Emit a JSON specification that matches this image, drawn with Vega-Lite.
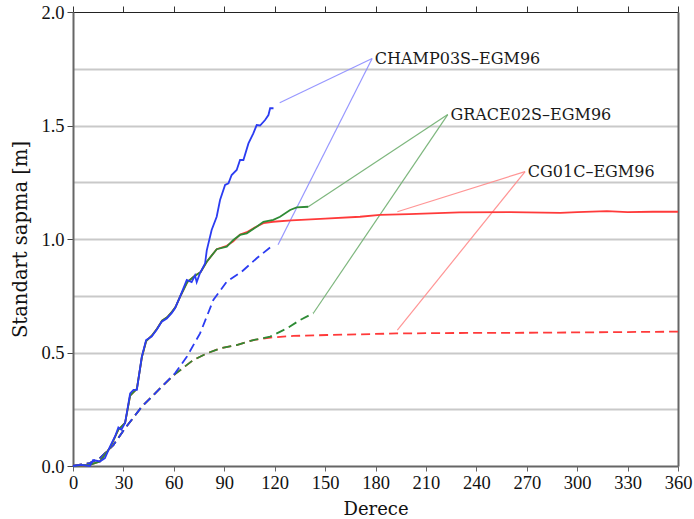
{
  "$schema": "https://vega.github.io/schema/vega-lite/v6.json",
  "autosize": "none",
  "width": 605,
  "height": 454,
  "padding": {"left": 73, "top": 12, "right": 16, "bottom": 53},
  "background": "white",
  "config": {"view": {"stroke": null}, "font": "DejaVu Serif"},
  "datasets": {
    "curves": [
      {"s": "CG01C", "k": "dashed", "d": 0, "v": 0},
      {"s": "CG01C", "k": "dashed", "d": 10, "v": 0.013},
      {"s": "CG01C", "k": "dashed", "d": 16, "v": 0.035},
      {"s": "CG01C", "k": "dashed", "d": 24, "v": 0.092},
      {"s": "CG01C", "k": "dashed", "d": 31, "v": 0.166},
      {"s": "CG01C", "k": "dashed", "d": 40.9, "v": 0.261},
      {"s": "CG01C", "k": "dashed", "d": 51.8, "v": 0.342},
      {"s": "CG01C", "k": "dashed", "d": 60.7, "v": 0.405},
      {"s": "CG01C", "k": "dashed", "d": 71.6, "v": 0.467},
      {"s": "CG01C", "k": "dashed", "d": 79.6, "v": 0.496},
      {"s": "CG01C", "k": "dashed", "d": 87.5, "v": 0.518},
      {"s": "CG01C", "k": "dashed", "d": 97.4, "v": 0.533},
      {"s": "CG01C", "k": "dashed", "d": 107.3, "v": 0.555},
      {"s": "CG01C", "k": "dashed", "d": 119.2, "v": 0.567},
      {"s": "CG01C", "k": "dashed", "d": 131.1, "v": 0.573},
      {"s": "CG01C", "k": "dashed", "d": 151, "v": 0.577},
      {"s": "CG01C", "k": "dashed", "d": 170.8, "v": 0.58},
      {"s": "CG01C", "k": "dashed", "d": 192.7, "v": 0.584},
      {"s": "CG01C", "k": "dashed", "d": 230, "v": 0.586},
      {"s": "CG01C", "k": "dashed", "d": 270, "v": 0.587},
      {"s": "CG01C", "k": "dashed", "d": 310, "v": 0.589},
      {"s": "CG01C", "k": "dashed", "d": 360, "v": 0.592},

      {"s": "GRACE02S", "k": "dashed", "d": 0, "v": 0},
      {"s": "GRACE02S", "k": "dashed", "d": 10, "v": 0.013},
      {"s": "GRACE02S", "k": "dashed", "d": 16, "v": 0.035},
      {"s": "GRACE02S", "k": "dashed", "d": 24, "v": 0.092},
      {"s": "GRACE02S", "k": "dashed", "d": 31, "v": 0.166},
      {"s": "GRACE02S", "k": "dashed", "d": 40.9, "v": 0.261},
      {"s": "GRACE02S", "k": "dashed", "d": 51.8, "v": 0.342},
      {"s": "GRACE02S", "k": "dashed", "d": 60.7, "v": 0.405},
      {"s": "GRACE02S", "k": "dashed", "d": 71.6, "v": 0.467},
      {"s": "GRACE02S", "k": "dashed", "d": 79.6, "v": 0.496},
      {"s": "GRACE02S", "k": "dashed", "d": 87.5, "v": 0.518},
      {"s": "GRACE02S", "k": "dashed", "d": 97.4, "v": 0.533},
      {"s": "GRACE02S", "k": "dashed", "d": 107.3, "v": 0.555},
      {"s": "GRACE02S", "k": "dashed", "d": 117.3, "v": 0.57},
      {"s": "GRACE02S", "k": "dashed", "d": 127.2, "v": 0.606},
      {"s": "GRACE02S", "k": "dashed", "d": 135.1, "v": 0.643},
      {"s": "GRACE02S", "k": "dashed", "d": 143, "v": 0.673},

      {"s": "CHAMP03S", "k": "dashed", "d": 0, "v": 0},
      {"s": "CHAMP03S", "k": "dashed", "d": 10, "v": 0.013},
      {"s": "CHAMP03S", "k": "dashed", "d": 16, "v": 0.035},
      {"s": "CHAMP03S", "k": "dashed", "d": 24, "v": 0.092},
      {"s": "CHAMP03S", "k": "dashed", "d": 31, "v": 0.166},
      {"s": "CHAMP03S", "k": "dashed", "d": 40.9, "v": 0.261},
      {"s": "CHAMP03S", "k": "dashed", "d": 51.8, "v": 0.342},
      {"s": "CHAMP03S", "k": "dashed", "d": 60.7, "v": 0.408},
      {"s": "CHAMP03S", "k": "dashed", "d": 67.7, "v": 0.481},
      {"s": "CHAMP03S", "k": "dashed", "d": 75.6, "v": 0.584},
      {"s": "CHAMP03S", "k": "dashed", "d": 83.5, "v": 0.731},
      {"s": "CHAMP03S", "k": "dashed", "d": 91.5, "v": 0.812},
      {"s": "CHAMP03S", "k": "dashed", "d": 100.4, "v": 0.856},
      {"s": "CHAMP03S", "k": "dashed", "d": 109.3, "v": 0.915},
      {"s": "CHAMP03S", "k": "dashed", "d": 119.2, "v": 0.974},

      {"s": "CG01C", "k": "solid", "d": 0, "v": 0},
      {"s": "CG01C", "k": "solid", "d": 10, "v": 0.005},
      {"s": "CG01C", "k": "solid", "d": 16, "v": 0.02},
      {"s": "CG01C", "k": "solid", "d": 22, "v": 0.08},
      {"s": "CG01C", "k": "solid", "d": 27, "v": 0.16},
      {"s": "CG01C", "k": "solid", "d": 31, "v": 0.19},
      {"s": "CG01C", "k": "solid", "d": 34, "v": 0.31},
      {"s": "CG01C", "k": "solid", "d": 38, "v": 0.34},
      {"s": "CG01C", "k": "solid", "d": 41, "v": 0.48},
      {"s": "CG01C", "k": "solid", "d": 43.5, "v": 0.55},
      {"s": "CG01C", "k": "solid", "d": 47, "v": 0.575},
      {"s": "CG01C", "k": "solid", "d": 50, "v": 0.605},
      {"s": "CG01C", "k": "solid", "d": 53, "v": 0.64},
      {"s": "CG01C", "k": "solid", "d": 56, "v": 0.655},
      {"s": "CG01C", "k": "solid", "d": 59, "v": 0.68},
      {"s": "CG01C", "k": "solid", "d": 61, "v": 0.7},
      {"s": "CG01C", "k": "solid", "d": 64, "v": 0.75},
      {"s": "CG01C", "k": "solid", "d": 68, "v": 0.81},
      {"s": "CG01C", "k": "solid", "d": 72, "v": 0.835},
      {"s": "CG01C", "k": "solid", "d": 76, "v": 0.855},
      {"s": "CG01C", "k": "solid", "d": 79.6, "v": 0.9},
      {"s": "CG01C", "k": "solid", "d": 85.5, "v": 0.955},
      {"s": "CG01C", "k": "solid", "d": 91.5, "v": 0.97},
      {"s": "CG01C", "k": "solid", "d": 95.4, "v": 0.99},
      {"s": "CG01C", "k": "solid", "d": 99.4, "v": 1.02},
      {"s": "CG01C", "k": "solid", "d": 103.4, "v": 1.03},
      {"s": "CG01C", "k": "solid", "d": 109.3, "v": 1.055},
      {"s": "CG01C", "k": "solid", "d": 113.3, "v": 1.07},
      {"s": "CG01C", "k": "solid", "d": 119, "v": 1.076},
      {"s": "CG01C", "k": "solid", "d": 130, "v": 1.082},
      {"s": "CG01C", "k": "solid", "d": 150, "v": 1.09},
      {"s": "CG01C", "k": "solid", "d": 170.8, "v": 1.098},
      {"s": "CG01C", "k": "solid", "d": 182.7, "v": 1.106},
      {"s": "CG01C", "k": "solid", "d": 200, "v": 1.11},
      {"s": "CG01C", "k": "solid", "d": 230, "v": 1.117},
      {"s": "CG01C", "k": "solid", "d": 260, "v": 1.118},
      {"s": "CG01C", "k": "solid", "d": 290, "v": 1.115},
      {"s": "CG01C", "k": "solid", "d": 300, "v": 1.118},
      {"s": "CG01C", "k": "solid", "d": 317.7, "v": 1.123},
      {"s": "CG01C", "k": "solid", "d": 330, "v": 1.118},
      {"s": "CG01C", "k": "solid", "d": 345, "v": 1.12},
      {"s": "CG01C", "k": "solid", "d": 360, "v": 1.12},

      {"s": "GRACE02S", "k": "solid", "d": 0, "v": 0},
      {"s": "GRACE02S", "k": "solid", "d": 10, "v": 0.005},
      {"s": "GRACE02S", "k": "solid", "d": 16, "v": 0.02},
      {"s": "GRACE02S", "k": "solid", "d": 22, "v": 0.08},
      {"s": "GRACE02S", "k": "solid", "d": 27, "v": 0.16},
      {"s": "GRACE02S", "k": "solid", "d": 31, "v": 0.19},
      {"s": "GRACE02S", "k": "solid", "d": 34, "v": 0.31},
      {"s": "GRACE02S", "k": "solid", "d": 38, "v": 0.34},
      {"s": "GRACE02S", "k": "solid", "d": 41, "v": 0.48},
      {"s": "GRACE02S", "k": "solid", "d": 43.5, "v": 0.55},
      {"s": "GRACE02S", "k": "solid", "d": 47, "v": 0.575},
      {"s": "GRACE02S", "k": "solid", "d": 50, "v": 0.605},
      {"s": "GRACE02S", "k": "solid", "d": 53, "v": 0.64},
      {"s": "GRACE02S", "k": "solid", "d": 56, "v": 0.655},
      {"s": "GRACE02S", "k": "solid", "d": 59, "v": 0.68},
      {"s": "GRACE02S", "k": "solid", "d": 61, "v": 0.7},
      {"s": "GRACE02S", "k": "solid", "d": 64, "v": 0.75},
      {"s": "GRACE02S", "k": "solid", "d": 68, "v": 0.81},
      {"s": "GRACE02S", "k": "solid", "d": 72, "v": 0.835},
      {"s": "GRACE02S", "k": "solid", "d": 76, "v": 0.855},
      {"s": "GRACE02S", "k": "solid", "d": 79.6, "v": 0.9},
      {"s": "GRACE02S", "k": "solid", "d": 85.5, "v": 0.955},
      {"s": "GRACE02S", "k": "solid", "d": 91.5, "v": 0.966},
      {"s": "GRACE02S", "k": "solid", "d": 95.4, "v": 0.996},
      {"s": "GRACE02S", "k": "solid", "d": 99.4, "v": 1.018},
      {"s": "GRACE02S", "k": "solid", "d": 103.4, "v": 1.025},
      {"s": "GRACE02S", "k": "solid", "d": 109.3, "v": 1.054},
      {"s": "GRACE02S", "k": "solid", "d": 113.3, "v": 1.076},
      {"s": "GRACE02S", "k": "solid", "d": 119.2, "v": 1.084},
      {"s": "GRACE02S", "k": "solid", "d": 123.2, "v": 1.098},
      {"s": "GRACE02S", "k": "solid", "d": 129.2, "v": 1.128},
      {"s": "GRACE02S", "k": "solid", "d": 133.1, "v": 1.139},
      {"s": "GRACE02S", "k": "solid", "d": 140, "v": 1.142},

      {"s": "CHAMP03S", "k": "solid", "d": 0, "v": 0},
      {"s": "CHAMP03S", "k": "solid", "d": 5, "v": 0.005},
      {"s": "CHAMP03S", "k": "solid", "d": 10, "v": 0.0},
      {"s": "CHAMP03S", "k": "solid", "d": 12, "v": 0.026},
      {"s": "CHAMP03S", "k": "solid", "d": 16, "v": 0.02},
      {"s": "CHAMP03S", "k": "solid", "d": 19, "v": 0.035},
      {"s": "CHAMP03S", "k": "solid", "d": 22, "v": 0.085},
      {"s": "CHAMP03S", "k": "solid", "d": 25, "v": 0.13},
      {"s": "CHAMP03S", "k": "solid", "d": 27, "v": 0.17},
      {"s": "CHAMP03S", "k": "solid", "d": 28.8, "v": 0.16},
      {"s": "CHAMP03S", "k": "solid", "d": 31, "v": 0.19},
      {"s": "CHAMP03S", "k": "solid", "d": 34, "v": 0.32},
      {"s": "CHAMP03S", "k": "solid", "d": 36, "v": 0.335},
      {"s": "CHAMP03S", "k": "solid", "d": 38, "v": 0.335},
      {"s": "CHAMP03S", "k": "solid", "d": 40.9, "v": 0.48},
      {"s": "CHAMP03S", "k": "solid", "d": 43.5, "v": 0.555},
      {"s": "CHAMP03S", "k": "solid", "d": 46.8, "v": 0.57},
      {"s": "CHAMP03S", "k": "solid", "d": 49.8, "v": 0.6},
      {"s": "CHAMP03S", "k": "solid", "d": 52.8, "v": 0.636},
      {"s": "CHAMP03S", "k": "solid", "d": 55.8, "v": 0.65},
      {"s": "CHAMP03S", "k": "solid", "d": 58.7, "v": 0.673},
      {"s": "CHAMP03S", "k": "solid", "d": 60.7, "v": 0.695},
      {"s": "CHAMP03S", "k": "solid", "d": 63.7, "v": 0.746},
      {"s": "CHAMP03S", "k": "solid", "d": 67.7, "v": 0.82},
      {"s": "CHAMP03S", "k": "solid", "d": 70.6, "v": 0.81},
      {"s": "CHAMP03S", "k": "solid", "d": 72.6, "v": 0.84},
      {"s": "CHAMP03S", "k": "solid", "d": 73.6, "v": 0.81},
      {"s": "CHAMP03S", "k": "solid", "d": 75.6, "v": 0.85},
      {"s": "CHAMP03S", "k": "solid", "d": 78.6, "v": 0.893},
      {"s": "CHAMP03S", "k": "solid", "d": 79.6, "v": 0.95},
      {"s": "CHAMP03S", "k": "solid", "d": 82.5, "v": 1.04},
      {"s": "CHAMP03S", "k": "solid", "d": 85.5, "v": 1.098},
      {"s": "CHAMP03S", "k": "solid", "d": 87.5, "v": 1.172},
      {"s": "CHAMP03S", "k": "solid", "d": 90.5, "v": 1.238},
      {"s": "CHAMP03S", "k": "solid", "d": 92.5, "v": 1.245},
      {"s": "CHAMP03S", "k": "solid", "d": 94.4, "v": 1.282},
      {"s": "CHAMP03S", "k": "solid", "d": 97.4, "v": 1.304},
      {"s": "CHAMP03S", "k": "solid", "d": 99.4, "v": 1.348},
      {"s": "CHAMP03S", "k": "solid", "d": 101.4, "v": 1.348},
      {"s": "CHAMP03S", "k": "solid", "d": 104.4, "v": 1.421},
      {"s": "CHAMP03S", "k": "solid", "d": 107.3, "v": 1.465},
      {"s": "CHAMP03S", "k": "solid", "d": 109.3, "v": 1.502},
      {"s": "CHAMP03S", "k": "solid", "d": 111.3, "v": 1.5},
      {"s": "CHAMP03S", "k": "solid", "d": 114.3, "v": 1.524},
      {"s": "CHAMP03S", "k": "solid", "d": 116.3, "v": 1.546},
      {"s": "CHAMP03S", "k": "solid", "d": 117.3, "v": 1.576},
      {"s": "CHAMP03S", "k": "solid", "d": 119.3, "v": 1.576}
    ],
    "pointers": [
      {"p": "b1", "c": "CHAMP03S", "d": 123, "v": 1.6},
      {"p": "b1", "c": "CHAMP03S", "d": 178, "v": 1.795},
      {"p": "b2", "c": "CHAMP03S", "d": 122, "v": 0.975},
      {"p": "b2", "c": "CHAMP03S", "d": 178, "v": 1.795},
      {"p": "g1", "c": "GRACE02S", "d": 140, "v": 1.142},
      {"p": "g1", "c": "GRACE02S", "d": 223, "v": 1.548},
      {"p": "g2", "c": "GRACE02S", "d": 143, "v": 0.673},
      {"p": "g2", "c": "GRACE02S", "d": 223, "v": 1.548},
      {"p": "r1", "c": "CG01C", "d": 193, "v": 1.12},
      {"p": "r1", "c": "CG01C", "d": 269, "v": 1.297},
      {"p": "r2", "c": "CG01C", "d": 193, "v": 0.599},
      {"p": "r2", "c": "CG01C", "d": 269, "v": 1.297}
    ],
    "labels": [
      {"t": "CHAMP03S–EGM96", "d": 179, "v": 1.795},
      {"t": "GRACE02S–EGM96", "d": 224, "v": 1.548},
      {"t": "CG01C–EGM96", "d": 270, "v": 1.297}
    ]
  },
  "layer": [
    {
      "data": {"name": "pointers"},
      "mark": {"type": "line", "strokeWidth": 1.2, "opacity": 0.9},
      "encoding": {
        "x": {"field": "d", "type": "quantitative", "scale": {"domain": [0, 360], "nice": false},
          "axis": {"orient": "bottom", "values": [0,30,60,90,120,150,180,210,240,270,300,330,360], "title": "Derece",
            "grid": false, "labelFont": "Liberation Serif", "labelFontSize": 18.5, "labelColor": "#111", "labelPadding": 2,
            "tickSize": 5, "tickColor": "#666", "tickWidth": 1, "domainColor": "#666", "domainWidth": 2,
            "titleFont": "DejaVu Serif", "titleFontSize": 18, "titleFontWeight": "normal", "titleColor": "#111", "titlePadding": 9, "labelFlush": false}},
        "y": {"field": "v", "type": "quantitative", "scale": {"domain": [0, 2], "nice": false},
          "axis": {"orient": "left", "values": [0, 0.5, 1, 1.5, 2], "format": ".1f", "title": "Standart sapma [m]",
            "grid": false, "labelFont": "Liberation Serif", "labelFontSize": 18.5, "labelColor": "#111", "labelPadding": 3,
            "tickSize": 6, "tickColor": "#444", "domainColor": "#666", "domainWidth": 2,
            "titleFont": "DejaVu Serif", "titleFontSize": 19.5, "titleFontWeight": "normal", "titleColor": "#111", "titlePadding": 10}},
        "detail": {"field": "p"},
        "color": {"field": "c", "type": "nominal", "scale": {"domain": ["CHAMP03S", "GRACE02S", "CG01C"], "range": ["#8c8cff", "#6fae6f", "#ff8a8a"]}, "legend": null}
      }
    },
    {
      "data": {"name": "curves"},
      "transform": [{"filter": "datum.s == 'CG01C' && datum.k == 'dashed'"}],
      "mark": {"type": "line", "color": "#ff3a3a", "strokeWidth": 1.8, "strokeDash": [9, 5]},
      "encoding": {
        "x": {"field": "d", "type": "quantitative", "scale": {"domain": [0, 360], "nice": false},
          "axis": {"orient": "top", "values": [0,30,60,90,120,150,180,210,240,270,300,330,360], "labels": false, "title": null,
            "grid": false, "tickSize": 6, "tickColor": "#333", "domainColor": "#222", "domainWidth": 1}},
        "y": {"field": "v", "type": "quantitative", "scale": {"domain": [0, 2], "nice": false},
          "axis": {"orient": "right", "values": [0.25, 0.5, 0.75, 1, 1.25, 1.5, 1.75], "labels": false, "title": null,
            "grid": true, "gridColor": "#c9c9c9", "gridWidth": 2, "ticks": false, "domainColor": "#666", "domainWidth": 2}}
      }
    },
    {
      "data": {"name": "curves"},
      "transform": [{"filter": "datum.s == 'GRACE02S' && datum.k == 'dashed'"}],
      "mark": {"type": "line", "color": "#2e8b35", "strokeWidth": 1.8, "strokeDash": [9, 5]},
      "encoding": {
        "x": {"field": "d", "type": "quantitative", "scale": {"domain": [0, 360], "nice": false}, "axis": null},
        "y": {"field": "v", "type": "quantitative", "scale": {"domain": [0, 2], "nice": false}, "axis": null}
      }
    },
    {
      "data": {"name": "curves"},
      "transform": [{"filter": "datum.s == 'CHAMP03S' && datum.k == 'dashed'"}],
      "mark": {"type": "line", "color": "#2b3cf2", "strokeWidth": 1.8, "strokeDash": [9, 5]},
      "encoding": {
        "x": {"field": "d", "type": "quantitative", "scale": {"domain": [0, 360], "nice": false}, "axis": null},
        "y": {"field": "v", "type": "quantitative", "scale": {"domain": [0, 2], "nice": false}, "axis": null}
      }
    },
    {
      "data": {"name": "curves"},
      "transform": [{"filter": "datum.s == 'CG01C' && datum.k == 'solid'"}],
      "mark": {"type": "line", "color": "#ff3a3a", "strokeWidth": 1.8},
      "encoding": {
        "x": {"field": "d", "type": "quantitative", "scale": {"domain": [0, 360], "nice": false}, "axis": null},
        "y": {"field": "v", "type": "quantitative", "scale": {"domain": [0, 2], "nice": false}, "axis": null}
      }
    },
    {
      "data": {"name": "curves"},
      "transform": [{"filter": "datum.s == 'GRACE02S' && datum.k == 'solid'"}],
      "mark": {"type": "line", "color": "#2e8b35", "strokeWidth": 1.8},
      "encoding": {
        "x": {"field": "d", "type": "quantitative", "scale": {"domain": [0, 360], "nice": false}, "axis": null},
        "y": {"field": "v", "type": "quantitative", "scale": {"domain": [0, 2], "nice": false}, "axis": null}
      }
    },
    {
      "data": {"name": "curves"},
      "transform": [{"filter": "datum.s == 'CHAMP03S' && datum.k == 'solid'"}],
      "mark": {"type": "line", "color": "#2b3cf2", "strokeWidth": 1.8},
      "encoding": {
        "x": {"field": "d", "type": "quantitative", "scale": {"domain": [0, 360], "nice": false}, "axis": null},
        "y": {"field": "v", "type": "quantitative", "scale": {"domain": [0, 2], "nice": false}, "axis": null}
      }
    },
    {
      "data": {"name": "labels"},
      "mark": {"type": "text", "align": "left", "baseline": "middle", "font": "DejaVu Serif", "fontSize": 16, "color": "#1a1a1a", "dx": 1},
      "encoding": {
        "x": {"field": "d", "type": "quantitative", "scale": {"domain": [0, 360], "nice": false}, "axis": null},
        "y": {"field": "v", "type": "quantitative", "scale": {"domain": [0, 2], "nice": false}, "axis": null},
        "text": {"field": "t"}
      }
    }
  ],
  "resolve": {"axis": {"x": "independent", "y": "independent"}}
}
